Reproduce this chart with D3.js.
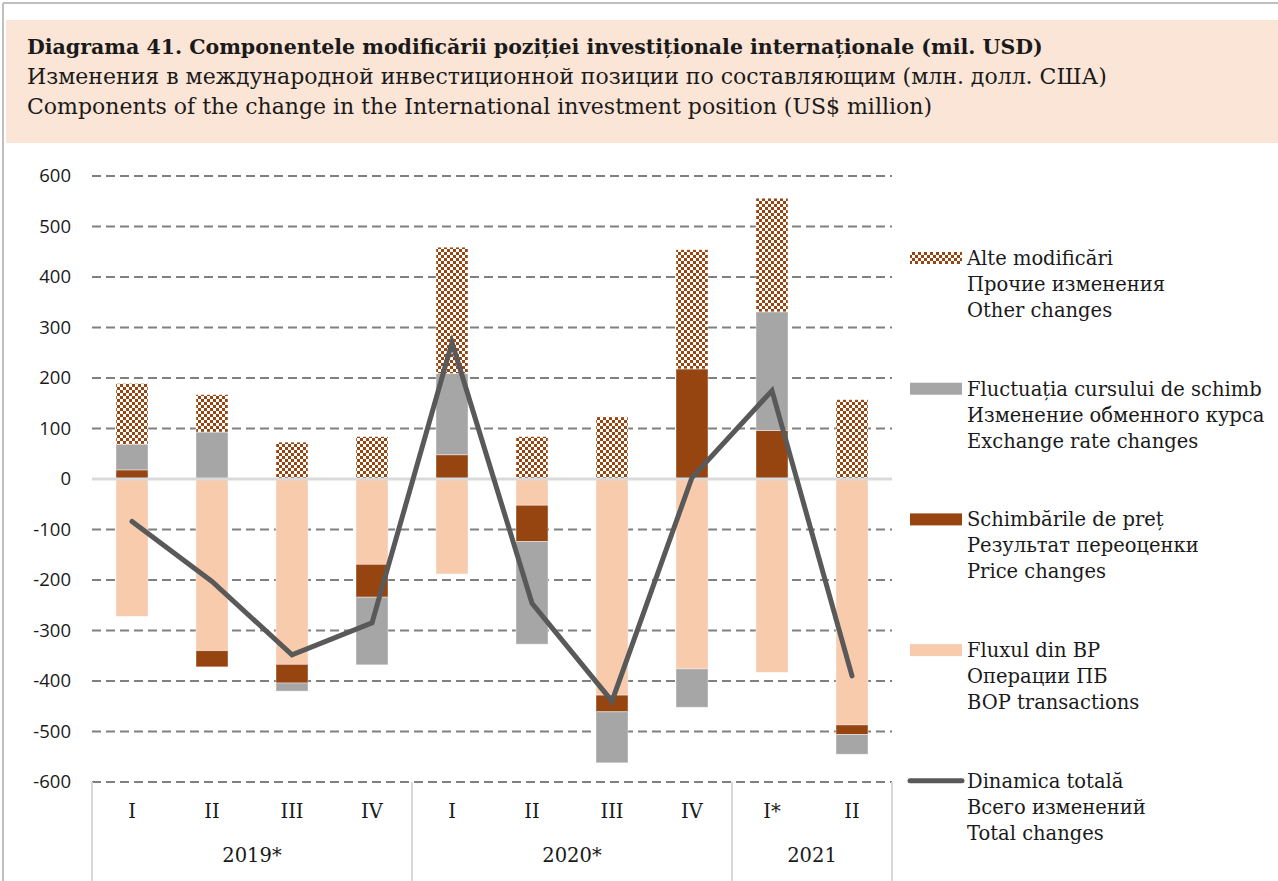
<!DOCTYPE html>
<html>
<head>
<meta charset="utf-8">
<script src="https://cdn.jsdelivr.net/npm/d3@7"></script>
<style>
  html, body { margin: 0; padding: 0; background: #fff; }
  svg { display: block; }
  .serif { font-family: 'DejaVu Serif', serif; fill: #1a1a1a; }
  .sans { font-family: 'Open Sans', sans-serif; fill: #1a1a1a; }
</style>
</head>
<body>
<svg id="chart" width="1278" height="881"></svg>
<script>
// quarters and years
const quarters = ['I', 'II', 'III', 'IV', 'I', 'II', 'III', 'IV', 'I*', 'II']
const years = ['2019*', '2020*', '2021']
const yearSizes = [4, 4, 2]

// components (mil. USD)
const bopFlow = [-272, -340, -367, -169, -188, -52, -428, -376, -383, -487]
const priceChanges = [18, -32, -37, -65, 48, -72, -33, 218, 96, -19]
const fxChanges = [51, 93, -16, -134, 161, -203, -101, -76, 235, -39]
const otherChanges = [120, 74, 73, 84, 250, 84, 123, 236, 225, 157]
const totalChanges = [-84, -203, -348, -285, 270, -246, -440, 3, 175, -390]

const yTicks = [600, 500, 400, 300, 200, 100, 0, -100, -200, -300, -400, -500, -600]

const titleLines = [
  'Diagrama 41. Componentele modificării poziției investiționale internaționale (mil. USD)',
  'Изменения в международной инвестиционной позиции по составляющим (млн. долл. США)',
  'Components of the change in the International investment position (US$ million)'
]

const legendItems = [
  { key: 'other', lines: ['Alte modificări', 'Прочие изменения', 'Other changes'] },
  { key: 'fx', lines: ['Fluctuația cursului de schimb', 'Изменение обменного курса', 'Exchange rate changes'] },
  { key: 'price', lines: ['Schimbările de preț', 'Результат переоценки', 'Price changes'] },
  { key: 'bop', lines: ['Fluxul din BP', 'Операции ПБ', 'BOP transactions'] },
  { key: 'total', lines: ['Dinamica totală', 'Всего изменений', 'Total changes'] }
]

const colors = {
  bop: '#f8cbad',
  price: '#974510',
  fx: '#a6a6a6',
  other: 'url(#checker)',
  total: '#595959'
}

const svg = d3.select('#chart')

// checker pattern for "other changes"
const defs = svg.append('defs')
const pat = defs.append('pattern')
  .attr('id', 'checker')
  .attr('patternUnits', 'userSpaceOnUse')
  .attr('width', 6)
  .attr('height', 6)
pat.append('rect').attr('width', 6).attr('height', 6).attr('fill', '#fff')
pat.append('rect').attr('width', 3).attr('height', 3).attr('fill', '#974510')
pat.append('rect').attr('x', 3).attr('y', 3).attr('width', 3).attr('height', 3).attr('fill', '#974510')

// frame
svg.append('line').attr('x1', 3).attr('x2', 3).attr('y1', 3).attr('y2', 881)
  .attr('stroke', '#bfbfbf').attr('stroke-width', 2)
svg.append('line').attr('x1', 3).attr('x2', 1278).attr('y1', 3).attr('y2', 3)
  .attr('stroke', '#bfbfbf').attr('stroke-width', 2)

// header
svg.append('rect').attr('x', 6).attr('y', 20).attr('width', 1272).attr('height', 123)
  .attr('fill', '#fbe5d6')
svg.append('g').selectAll('text').data(titleLines).enter().append('text')
  .attr('class', 'serif')
  .attr('x', 27)
  .attr('y', (d, i) => 54 + i * 30)
  .attr('font-size', (d, i) => i ? 22 : 20.5)
  .attr('font-weight', (d, i) => i ? 'normal' : 'bold')
  .text(d => d)

// scales
const x = d3.scaleBand().domain(d3.range(quarters.length)).range([92, 892])
  .paddingInner(0.6).paddingOuter(0.3)
const y = d3.scaleLinear().domain([-600, 600]).range([782, 176])

// grid
svg.append('g').selectAll('line').data(yTicks).enter().append('line')
  .attr('x1', 92).attr('x2', 892)
  .attr('y1', d => y(d)).attr('y2', d => y(d))
  .attr('stroke', '#808080')
  .attr('stroke-width', 2)
  .attr('stroke-dasharray', '9,5')
  .attr('display', d => d === 0 ? 'none' : null)

// y axis labels (plain hyphen for negatives, like the original)
const yAxis = svg.append('g').attr('transform', 'translate(80,0)')
  .call(d3.axisLeft(y).tickValues(yTicks).tickSize(0).tickPadding(9).tickFormat(d => String(d)))
yAxis.select('.domain').remove()
yAxis.selectAll('text').attr('class', 'sans').attr('font-size', 18.5)
  .style('font-family', "'Open Sans', sans-serif").attr('fill', '#1a1a1a')

// stacked bars
const rows = quarters.map((q, i) => ({
  i, bop: bopFlow[i], price: priceChanges[i], fx: fxChanges[i], other: otherChanges[i]
}))
const keys = ['bop', 'price', 'fx', 'other']
const stacked = d3.stack().keys(keys).offset(d3.stackOffsetDiverging)(rows)

svg.append('g').selectAll('g').data(stacked).enter().append('g')
  .attr('fill', d => colors[d.key])
  .selectAll('rect').data(d => d).enter().append('rect')
  .attr('x', d => x(d.data.i))
  .attr('width', x.bandwidth())
  .attr('y', d => y(Math.max(d[0], d[1])))
  .attr('height', d => Math.abs(y(d[0]) - y(d[1])))
  .attr('stroke', '#fff')
  .attr('stroke-opacity', 0.5)
  .attr('stroke-width', 0.8)

// zero line
svg.append('line').attr('x1', 92).attr('x2', 892).attr('y1', y(0)).attr('y2', y(0))
  .attr('stroke', '#d9d9d9').attr('stroke-width', 3)

// total line
const line = d3.line().x((d, i) => x(i) + x.bandwidth() / 2).y(d => y(d))
svg.append('path').datum(totalChanges)
  .attr('d', line)
  .attr('fill', 'none')
  .attr('stroke', colors.total)
  .attr('stroke-width', 5)
  .attr('stroke-linecap', 'round')

// x axis: quarters, years, separators
const xAxis = svg.append('g')
xAxis.selectAll('text.q').data(quarters).enter().append('text')
  .attr('class', 'serif q')
  .attr('x', (d, i) => x(i) + x.bandwidth() / 2)
  .attr('y', 818)
  .attr('text-anchor', 'middle')
  .attr('font-size', 19.5)
  .text(d => d)

const step = x.step()
let start = 0
const yearPos = years.map((yr, k) => {
  const s = start
  start += yearSizes[k]
  return { yr, x0: 92 + s * step, x1: 92 + start * step }
})
xAxis.selectAll('text.yr').data(yearPos).enter().append('text')
  .attr('class', 'serif yr')
  .attr('x', d => (d.x0 + d.x1) / 2)
  .attr('y', 862)
  .attr('text-anchor', 'middle')
  .attr('font-size', 19.5)
  .text(d => d.yr)
const seps = [yearPos[0].x0].concat(yearPos.map(d => d.x1))
xAxis.selectAll('line').data(seps).enter().append('line')
  .attr('x1', d => d).attr('x2', d => d)
  .attr('y1', 782).attr('y2', 881)
  .attr('stroke', '#d9d9d9').attr('stroke-width', 2)

// legend
const legend = svg.append('g')
const items = legend.selectAll('g').data(legendItems).enter().append('g')
  .attr('transform', (d, i) => `translate(0,${258 + i * 130.7})`)
items.each(function (d) {
  const g = d3.select(this)
  if (d.key === 'total') {
    g.append('line').attr('x1', 910).attr('x2', 962).attr('y1', 0).attr('y2', 0)
      .attr('stroke', colors.total).attr('stroke-width', 5).attr('stroke-linecap', 'round')
  } else {
    g.append('rect').attr('x', 910).attr('y', -6).attr('width', 52).attr('height', 12)
      .attr('fill', colors[d.key])
  }
  g.selectAll('text').data(d.lines).enter().append('text')
    .attr('class', 'serif')
    .attr('x', 967)
    .attr('y', (t, j) => 7 + j * 26)
    .attr('font-size', 19.5)
    .text(t => t)
})
</script>
</body>
</html>
